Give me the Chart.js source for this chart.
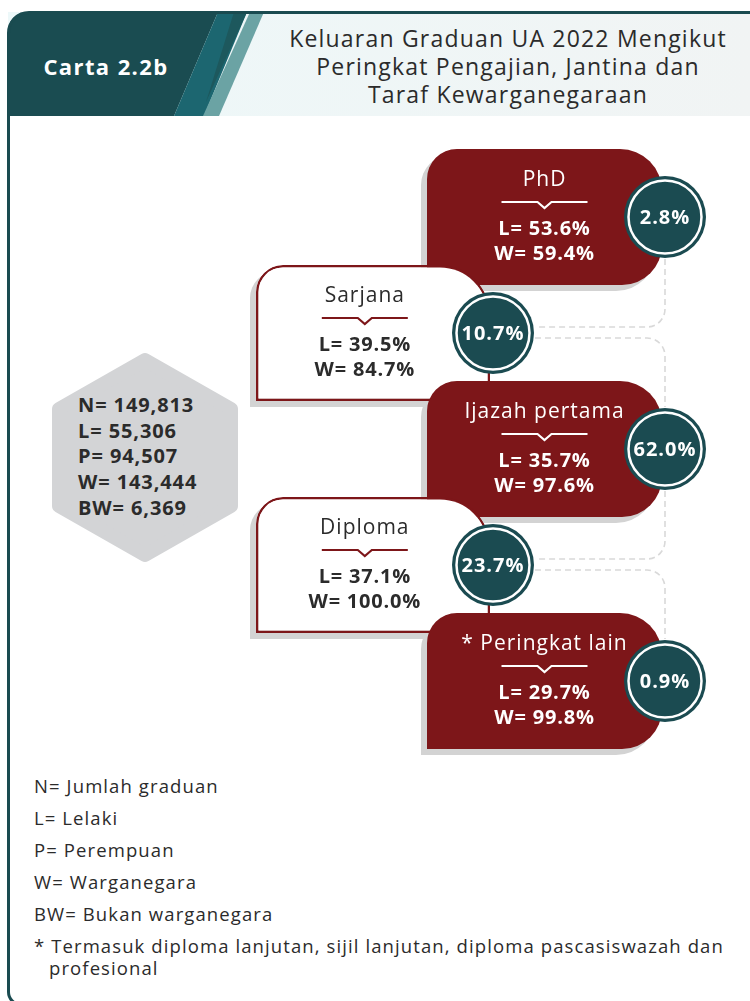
<!DOCTYPE html>
<html><head><meta charset="utf-8">
<script src="https://cdn.jsdelivr.net/npm/chart.js@4.4.1/dist/chart.umd.min.js"></script>
<style>
html,body{margin:0;padding:0;width:750px;height:1001px;overflow:hidden;background:#fff;font-family:'Open Sans',sans-serif;}
#card{position:absolute;left:7px;top:11px;width:770px;height:995px;box-sizing:border-box;border:3px solid #1a4b50;border-radius:22px 0 0 14px;}
#hdr{position:absolute;left:0;top:0;}
#carta{position:absolute;left:8px;width:196px;top:52px;line-height:28px;text-align:center;color:#fff;font-weight:700;font-size:22px;letter-spacing:1.4px;}
#title{position:absolute;left:266px;width:484px;top:24px;line-height:28px;text-align:center;color:#2b2b2b;font-size:23px;letter-spacing:1.2px;}
#hex{position:absolute;left:0;top:0;}
#hextext{position:absolute;left:78px;top:392px;font-weight:700;font-size:20px;line-height:25.7px;color:#2b2b2b;letter-spacing:0.9px;}
#legend{position:absolute;left:34px;top:775px;width:705px;font-size:18.5px;color:#2b2b2b;letter-spacing:1.1px;}
#legend p{margin:0 0 10px 0;line-height:22px;}
#legend p.note{padding-left:15px;text-indent:-15px;}
#cv{position:absolute;left:0;top:0;}
</style></head>
<body>
<svg id="hdr" width="750" height="120">
  <defs><linearGradient id="lg" x1="0" x2="1" y1="0" y2="0"><stop offset="0" stop-color="#edf8f9"/><stop offset="1" stop-color="#f1f4f4"/></linearGradient></defs>
  <rect x="8" y="12" width="742" height="104" fill="url(#lg)"/>
  <path d="M8,116 L8,34 Q8,12 30,12 L218,12 L174,116 Z" fill="#1a4c51"/>
  <polygon points="218,12 247,12 204,116 174,116" fill="#1c6670"/>
  <polygon points="234,12 247,12 206,102" fill="#1d585d"/>
  <polygon points="250,12 264,12 219,116 203,116" fill="#6ba3a4"/>
</svg>
<div id="card"></div>
<div id="carta">Carta 2.2b</div>
<div id="title">Keluaran Graduan UA 2022 Mengikut<br>Peringkat Pengajian, Jantina dan<br>Taraf Kewarganegaraan</div>
<svg id="hex" width="750" height="600">
  <polygon points="145,360 231,409 231,506 145,555 59,506 59,409" fill="#d3d4d6" stroke="#d3d4d6" stroke-width="14" stroke-linejoin="round"/>
</svg>
<div id="hextext"></div>
<div id="legend"></div>
<canvas id="cv" width="750" height="1001"></canvas>
<script>
// ---- data ----
const categories = ['PhD', 'Sarjana', 'Ijazah pertama', 'Diploma', '* Peringkat lain'];
const shares = [2.8, 10.7, 62.0, 23.7, 0.9];
const lelaki = [53.6, 39.5, 35.7, 37.1, 29.7];
const warganegara = [59.4, 84.7, 97.6, 100.0, 99.8];
const summaryKeys = ['N', 'L', 'P', 'W', 'BW'];
const summaryValues = [149813, 55306, 94507, 143444, 6369];
const legendKeys = ['N', 'L', 'P', 'W', 'BW'];
const legendTexts = ['Jumlah graduan', 'Lelaki', 'Perempuan', 'Warganegara', 'Bukan warganegara'];
const footnote = '* Termasuk diploma lanjutan, sijil lanjutan, diploma pascasiswazah dan profesional';

// ---- text blocks ----
document.getElementById('hextext').innerHTML = summaryKeys.map((k, i) => k + '= ' + summaryValues[i].toLocaleString('en-US')).join('<br>');
document.getElementById('legend').innerHTML = legendKeys.map((k, i) => '<p>' + k + '= ' + legendTexts[i] + '</p>').join('') + '<p class="note">' + footnote + '</p>';

// ---- layout / style ----
const RED = '#7d1619', TEAL = '#1b4b51', SHADOW = '#d3d3d3';
const FONT = "'Open Sans', sans-serif";
const isRight = i => i % 2 === 0;
const boxRange = categories.map((c, i) => isRight(i) ? [427, 662] : [256, 490]);
const circlePos = categories.map((c, i) => ({ x: isRight(i) ? 665 : 493, y: c }));
const radiusFor = ctx => isRight(ctx.dataIndex)
  ? { topLeft: 30, topRight: 42, bottomRight: 40, bottomLeft: 0 }
  : { topLeft: 27, topRight: 50, bottomRight: 0, bottomLeft: 0 };

const shadowPlugin = {
  id: 'shadowShift',
  beforeDatasetDraw(chart, args) {
    if (chart.data.datasets[args.index].label === 'shadow') { chart.ctx.save(); chart.ctx.translate(-6, 6); }
  },
  afterDatasetDraw(chart, args) {
    if (chart.data.datasets[args.index].label === 'shadow') chart.ctx.restore();
  }
};

const connectorPlugin = {
  id: 'connectors',
  beforeDatasetsDraw(chart) {
    const ctx = chart.ctx;
    const pts = chart.getDatasetMeta(2).data;
    const R = 42, cr = 18;
    ctx.save();
    ctx.strokeStyle = '#d9d9d9';
    ctx.lineWidth = 1.6;
    ctx.setLineDash([6, 4]);
    for (let i = 0; i < pts.length - 1; i++) {
      const a = pts[i], b = pts[i + 1];
      ctx.beginPath();
      if (isRight(i)) {
        const yH = b.y - 6;
        ctx.moveTo(a.x, a.y + R);
        ctx.lineTo(a.x, yH - cr);
        ctx.arcTo(a.x, yH, a.x - cr, yH, cr);
        ctx.lineTo(b.x + R, yH);
      } else {
        const yH = a.y + 5;
        ctx.moveTo(a.x + R, yH);
        ctx.lineTo(b.x - cr, yH);
        ctx.arcTo(b.x, yH, b.x, yH + cr, cr);
        ctx.lineTo(b.x, b.y - R);
      }
      ctx.stroke();
    }
    ctx.restore();
  }
};

const labelPlugin = {
  id: 'labels',
  afterDatasetsDraw(chart) {
    const ctx = chart.ctx;
    const bars = chart.getDatasetMeta(1).data;
    const dots = chart.getDatasetMeta(2).data;
    ctx.save();
    ctx.textAlign = 'center';
    ctx.textBaseline = 'middle';
    bars.forEach((el, i) => {
      const right = isRight(i);
      const col = right ? '#ffffff' : '#2b2b2b';
      const cx = right ? (el.x + el.base) / 2 : el.base + (el.x - el.base) * 0.465;
      const cy = el.y;
      ctx.fillStyle = col;
      ctx.font = '400 21px ' + FONT;
      ctx.letterSpacing = '1px';
      ctx.fillText(categories[i], cx, cy - 37);
      // divider with notch
      ctx.strokeStyle = right ? '#ffffff' : RED;
      ctx.lineWidth = 2.2;
      ctx.beginPath();
      ctx.moveTo(cx - 43, cy - 15);
      ctx.lineTo(cx - 7, cy - 15);
      ctx.lineTo(cx, cy - 9);
      ctx.lineTo(cx + 7, cy - 15);
      ctx.lineTo(cx + 43, cy - 15);
      ctx.stroke();
      ctx.font = '700 20px ' + FONT;
      ctx.letterSpacing = '0.8px';
      ctx.fillText('L= ' + lelaki[i].toFixed(1) + '%', cx, cy + 12);
      ctx.fillText('W= ' + warganegara[i].toFixed(1) + '%', cx, cy + 37);
    });
    dots.forEach((p, i) => {
      ctx.fillStyle = '#ffffff';
      ctx.font = '700 20px ' + FONT;
      ctx.letterSpacing = '1px';
      ctx.fillText(shares[i].toFixed(1) + '%', p.x, p.y + 1);
    });
    ctx.restore();
  }
};

new Chart(document.getElementById('cv'), {
  type: 'bar',
  data: {
    labels: categories,
    datasets: [
      { type: 'bar', label: 'shadow', data: boxRange, order: 4, backgroundColor: SHADOW, borderWidth: 0,
        borderSkipped: false, borderRadius: radiusFor, barThickness: 136, grouped: false, clip: false, inflateAmount: 0 },
      { type: 'bar', label: 'box', data: boxRange, order: 3,
        backgroundColor: ctx => isRight(ctx.dataIndex) ? RED : '#ffffff',
        borderColor: RED, borderWidth: ctx => isRight(ctx.dataIndex) ? 0 : 2.5,
        borderSkipped: false, borderRadius: radiusFor, barThickness: 136, grouped: false, clip: false, inflateAmount: 0 },
      { type: 'bubble', label: 'share', data: circlePos, order: 2, radius: 41, hoverRadius: 0,
        backgroundColor: TEAL, borderWidth: 0, clip: false },
      { type: 'bubble', label: 'ring', data: circlePos, order: 1, radius: 36.5, hoverRadius: 0,
        backgroundColor: TEAL, borderColor: '#ffffff', borderWidth: 2.5, clip: false }
    ]
  },
  options: {
    indexAxis: 'y',
    responsive: false,
    animation: false,
    events: [],
    devicePixelRatio: 1,
    layout: { autoPadding: false, padding: { top: 159, bottom: 262, left: 0, right: 0 } },
    scales: {
      x: { type: 'linear', min: 0, max: 750, display: false },
      y: { type: 'category', display: false, offset: true }
    },
    plugins: { legend: { display: false }, tooltip: { enabled: false } }
  },
  plugins: [shadowPlugin, connectorPlugin, labelPlugin]
});
</script>
</body></html>
